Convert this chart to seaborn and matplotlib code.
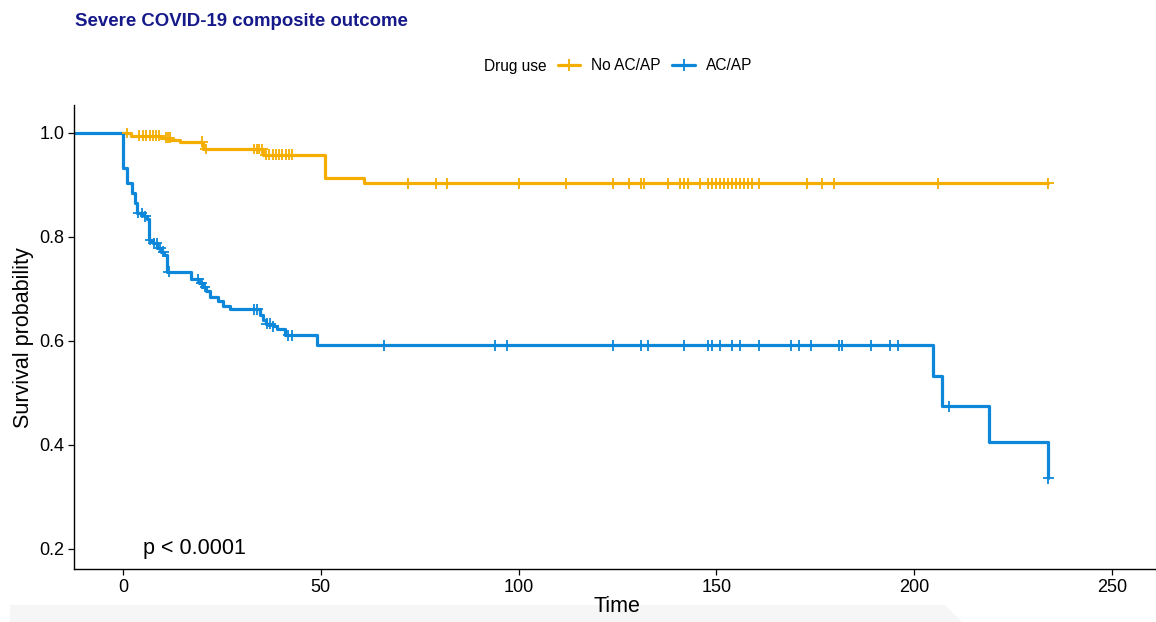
import numpy as np
import pandas as pd
import matplotlib
matplotlib.use("Agg")
import matplotlib.pyplot as plt
import seaborn as sns
from matplotlib.lines import Line2D
from matplotlib.patches import Polygon

# ---------------- data ----------------
groups = ["No AC/AP", "AC/AP"]
colors = ["#F5AE00", "#0C87D9"]

# Kaplan-Meier step points (time, survival) for No AC/AP
no_time = [0, 2.0, 9.6, 11.9, 14.4, 20.3, 35.5, 51.1, 61.0]
no_surv = [1.0, 0.995, 0.991, 0.987, 0.983, 0.969, 0.958, 0.913, 0.903]
no_cens = [1.0, 4.1, 5.0, 5.8, 6.7, 7.5, 8.3, 9.2, 10.8, 11.3, 11.8, 20.0, 20.9,
           33.1, 33.8, 34.4, 35.2, 36.1, 36.9, 37.8, 38.6, 39.4, 40.3, 41.1, 42.0, 42.8,
           72.0, 79.0, 81.8, 100.0, 112.0, 123.9, 127.9, 130.9, 131.8, 137.8, 140.8,
           141.8, 142.8, 145.8, 147.9, 148.9, 149.9, 150.9, 151.9, 152.9, 153.9, 154.9,
           156.0, 157.0, 158.0, 159.0, 160.8, 172.8, 176.8, 179.8, 205.9, 233.9]

# Kaplan-Meier step points for AC/AP
ac_time = [-15, 0.1, 0.9, 2.2, 3.0, 3.6, 5.3, 6.0, 6.6, 7.6, 8.6, 9.5, 10.4, 11.2,
           17.1, 19.3, 20.1, 21.0, 22.0, 24.1, 25.2, 27.0, 34.5, 35.3, 36.1, 37.8,
           38.8, 40.9, 49.1, 204.8, 206.9, 218.9, 233.9]
ac_surv = [1.0, 0.933, 0.903, 0.884, 0.865, 0.846, 0.840, 0.834, 0.794, 0.788, 0.779,
           0.772, 0.766, 0.733, 0.719, 0.711, 0.704, 0.697, 0.685, 0.676, 0.667, 0.661,
           0.650, 0.641, 0.633, 0.628, 0.623, 0.611, 0.592, 0.533, 0.474, 0.405, 0.336]
ac_cens = [3.8, 4.8, 5.6, 6.8, 7.7, 8.5, 9.4, 10.2, 11.5, 19.0, 19.9, 20.7, 33.1, 33.9,
           36.3, 37.2, 38.0, 41.8, 42.8, 66.0, 93.9, 97.0, 123.9, 130.9, 132.8, 141.9,
           147.9, 148.8, 151.0, 153.9, 156.0, 160.8, 168.9, 170.8, 173.9, 181.0, 181.8,
           189.0, 193.9, 195.8, 208.8, 233.9]

x_ticks = [0, 50, 100, 150, 200, 250]
y_ticks = [0.2, 0.4, 0.6, 0.8, 1.0]
title = "Severe COVID-19 composite outcome"
legend_title = "Drug use"
pval_text = "p < 0.0001"

# ---------------- build tables ----------------
curves, cens = [], []
for g, t, s, c in [(groups[0], no_time, no_surv, no_cens), (groups[1], ac_time, ac_surv, ac_cens)]:
    t = list(t); s = list(s)
    if max(c) > t[-1]:
        t.append(max(c)); s.append(s[-1])
    curves.append(pd.DataFrame({"time": t, "surv": s, "group": g}))
    ta = np.array(t); sa = np.array(s)
    idx = np.searchsorted(ta, np.array(c), side="right") - 1
    cens.append(pd.DataFrame({"time": c, "surv": sa[idx], "group": g}))
curve_df = pd.concat(curves, ignore_index=True)
cens_df = pd.concat(cens, ignore_index=True)

# ---------------- plot ----------------
sns.set_theme(style="ticks")
plt.rcParams["font.family"] = ["Liberation Sans", "DejaVu Sans"]
plt.rcParams["text.color"] = "black"
plt.rcParams["axes.labelcolor"] = "black"
plt.rcParams["xtick.color"] = "black"
plt.rcParams["ytick.color"] = "black"

W, H = 1156, 622
fig = plt.figure(figsize=(W / 100, H / 100), dpi=100)
ax = fig.add_axes([74 / W, (H - 569) / H, (W - 74) / W, (569 - 105) / H])

# faint grey band at the bottom of the picture
band = Polygon([(10 / W, 0), (10 / W, 17 / H), (945 / W, 17 / H), (962 / W, 0)],
               closed=True, transform=fig.transFigure, facecolor="#f6f6f6",
               edgecolor="none", zorder=-10)
fig.patches.append(band)

pal = dict(zip(groups, colors))
sns.lineplot(data=curve_df, x="time", y="surv", hue="group", hue_order=groups,
             palette=pal, drawstyle="steps-post", estimator=None, sort=False,
             linewidth=2.3, legend=False, ax=ax)
sns.scatterplot(data=cens_df, x="time", y="surv", hue="group", hue_order=groups,
                palette=pal, marker="+", s=60, linewidth=1.3, legend=False, ax=ax,
                zorder=3)

ax.set_xlim(-12.4, 261.1)
ax.set_ylim(0.1615, 1.0538)
ax.set_xticks(x_ticks)
ax.set_yticks(y_ticks)
ax.set_xticklabels([str(v) for v in x_ticks])
ax.set_yticklabels([f"{v:.1f}" for v in y_ticks])
ax.tick_params(direction="out", length=4, width=0.9, colors="black",
               labelcolor="black", labelsize=13, pad=3)
for sp in ["top", "right"]:
    ax.spines[sp].set_visible(False)
for sp in ["left", "bottom"]:
    ax.spines[sp].set_color("black")
    ax.spines[sp].set_linewidth(1.0)

ax.set_xlabel("Time", fontsize=15.5, va="center", color="black")
ax.xaxis.set_label_coords((617 - 74) / (W - 74), (569 - 607) / (569 - 105))
ax.set_ylabel("Survival probability", fontsize=15.5, va="center", color="black")
ax.yaxis.set_label_coords((24 - 74) / (W - 74), (569 - 338) / (569 - 105))

ax.text(5.0, 0.2, pval_text, fontsize=15.5, ha="left", va="center", color="black")

fig.text(75 / W, 1 - 21 / H, title, fontsize=13.4, fontweight="bold",
         color="#15198A", ha="left", va="center")
fig.text(484 / W, 1 - 66 / H, legend_title, fontsize=11.2, ha="left", va="center",
         color="black")

handles = [Line2D([], [], color=col, linewidth=2.3, marker="+", markersize=8,
                  markeredgewidth=1.3) for col in colors]
leg = ax.legend(handles, groups, ncol=2, frameon=False, loc="center left",
                bbox_to_anchor=(558 / W, 1 - 66 / H), bbox_transform=fig.transFigure,
                handlelength=1.43, handletextpad=0.7, columnspacing=0.75, borderpad=0,
                borderaxespad=0, fontsize=11.2)
for txt in leg.get_texts():
    txt.set_color("black")

fig.savefig("out.png", dpi=100)
